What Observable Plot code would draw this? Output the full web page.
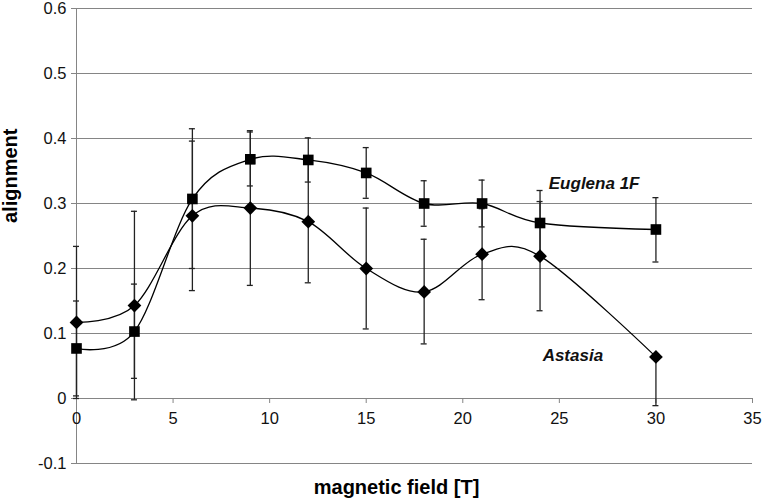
<!DOCTYPE html>
<html>
<head>
<meta charset="utf-8">
<script src="https://cdn.jsdelivr.net/npm/d3@7"></script>
<script src="https://cdn.jsdelivr.net/npm/@observablehq/plot@0.6"></script>
<style>
  html, body { margin: 0; padding: 0; background: #fff; }
  #chart svg { display: block; }
</style>
</head>
<body>
<div id="chart"></div>
<script>
// Data
const field = [0, 3, 6, 9, 12, 15, 18, 21, 24, 30];
const euglena = [0.077, 0.103, 0.307, 0.368, 0.367, 0.347, 0.300, 0.300, 0.270, 0.260];
const euglenaLow = [0.004, 0.031, 0.200, 0.327, 0.333, 0.308, 0.265, 0.264, 0.220, 0.210];
const euglenaHigh = [0.150, 0.176, 0.415, 0.410, 0.401, 0.386, 0.335, 0.336, 0.320, 0.309];
const astasia = [0.117, 0.143, 0.281, 0.293, 0.272, 0.200, 0.164, 0.222, 0.219, 0.064];
const astasiaLow = [0.000, -0.002, 0.166, 0.174, 0.178, 0.107, 0.084, 0.152, 0.135, -0.011];
const astasiaHigh = [0.234, 0.288, 0.396, 0.412, 0.368, 0.293, 0.245, 0.292, 0.303, 0.064];
const xTicks = [0, 5, 10, 15, 20, 25, 30, 35];
const yTicks = [-0.1, 0, 0.1, 0.2, 0.3, 0.4, 0.5, 0.6];
const seriesNames = ["Euglena 1F", "Astasia"];
const labelX = [26.8, 25.7];
const labelY = [0.331, 0.066];
const xTitle = "magnetic field [T]";
const yTitle = "alignment";

const eu = field.map((x, i) => ({x, y: euglena[i], lo: euglenaLow[i], hi: euglenaHigh[i]}));
const as = field.map((x, i) => ({x, y: astasia[i], lo: astasiaLow[i], hi: astasiaHigh[i]}));
const errs = eu.concat(as);
const labels = seriesNames.map((t, i) => ({t, x: labelX[i], y: labelY[i]}));

const font = "Liberation Sans, Arial, sans-serif";
const grid = "#858585";

const chart = Plot.plot({
  width: 762,
  height: 503,
  marginLeft: 76,
  marginRight: 10,
  marginTop: 8,
  marginBottom: 40,
  style: {fontFamily: font, background: "#fff", overflow: "visible"},
  x: {domain: [0, 35]},
  y: {domain: [-0.1, 0.6]},
  marks: [
    Plot.ruleY(yTicks, {stroke: grid, strokeWidth: 1}),
    Plot.ruleX([0], {stroke: grid, strokeWidth: 1}),
    Plot.axisY({ticks: yTicks, tickSize: 5, tickPadding: 5, stroke: grid, fontSize: 16.5, fill: "#111",
      tickFormat: d => d === 0 ? "0" : d.toFixed(1), label: null}),
    Plot.axisX({ticks: [], label: null}),
    // x ticks on the zero line
    Plot.ruleX(xTicks, {x: d => d, y1: 0, y2: 0, insetBottom: -5, stroke: grid}),
    Plot.text(xTicks, {x: d => d, y: 0, dy: 20, text: d => String(d), fontSize: 16.5, fill: "#111"}),
    // error bars
    Plot.ruleX(errs, {x: "x", y1: "lo", y2: "hi", stroke: "#222", strokeWidth: 1.3}),
    Plot.ruleY(errs, {y: "lo", x1: "x", x2: "x", insetLeft: -3, insetRight: -3, stroke: "#222", strokeWidth: 1.3}),
    Plot.ruleY(errs, {y: "hi", x1: "x", x2: "x", insetLeft: -3, insetRight: -3, stroke: "#222", strokeWidth: 1.3}),
    // smoothed lines
    Plot.line(eu, {x: "x", y: "y", curve: "cardinal", stroke: "#000", strokeWidth: 1.3}),
    Plot.line(as, {x: "x", y: "y", curve: "cardinal", stroke: "#000", strokeWidth: 1.3}),
    Plot.dot(eu, {x: "x", y: "y", symbol: "square", r: 6, fill: "#000", stroke: "none"}),
    Plot.dot(as, {x: "x", y: "y", symbol: "diamond2", r: 6.2, fill: "#000", stroke: "none"}),
    // series labels
    Plot.text(labels, {x: "x", y: "y", text: "t", fontSize: 17, fontWeight: "bold", fontStyle: "italic", fill: "#111"}),
    // axis titles
    Plot.text([xTitle], {frameAnchor: "bottom", text: d => d, dx: -18, dy: 30, fontSize: 20, fontWeight: "bold", fill: "#000"}),
    Plot.text([yTitle], {frameAnchor: "left", text: d => d, rotate: -90, dx: -66, dy: -13, fontSize: 20, fontWeight: "bold", fill: "#000"})
  ]
});
document.getElementById("chart").appendChild(chart);
</script>
</body>
</html>
